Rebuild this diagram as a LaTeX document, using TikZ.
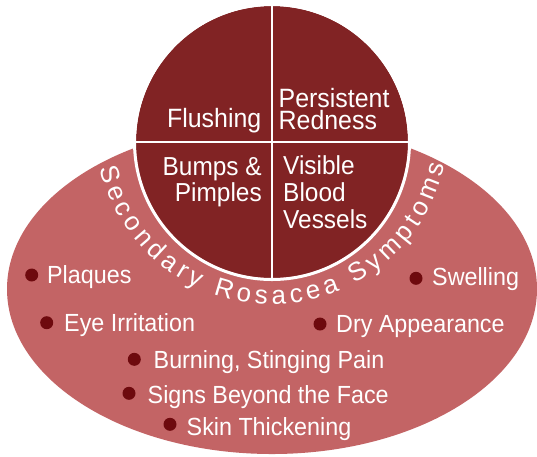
\documentclass[tikz,border=0pt]{standalone}
\usepackage{fontspec}
\setmainfont{Liberation Sans}[FakeStretch=0.94]
\newfontfamily\arcfont{Liberation Sans}
\usetikzlibrary{positioning}
\usetikzlibrary{decorations.text}
\definecolor{rosdark}{RGB}{129, 35, 36}
\definecolor{rosmid}{RGB}{195, 100, 101}
\definecolor{rosdot}{RGB}{110, 10, 14}

\tikzset{
  quadtop/.style={text=white, inner sep=0pt, font=\fontsize{26.5}{22}\selectfont},
  quadlow/.style={text=white, inner sep=0pt, font=\fontsize{26}{26.7}\selectfont},
  symptom/.style={text=white, inner sep=0pt, anchor=base west, font=\fontsize{24.8}{28}\selectfont},
  dot/.style={circle, fill=rosdot, minimum size=13pt, inner sep=0pt}
}

\begin{document}
\begin{tikzpicture}[x=1pt, y=-1pt]
            \useasboundingbox (0,0) rectangle (537,456);
            
            % Outer ellipse
            \fill[rosmid] (272,289) ellipse [x radius=265, y radius=165];
            
            % Inner circle
            \coordinate (hub) at (272,142);
            \fill[rosdark] (hub) circle (136);
            \draw[white, line width=3pt] (hub) circle (137.5);
            
            % Dividers
            \draw[white, line width=2.5pt] (272,5) -- (272,279);
            \draw[white, line width=2.5pt] (135,142) -- (409,142);
            
            % Labels inside circle (base = last line)
            \node[quadtop, anchor=base east] (flushing) at (261.5,127.3) {Flushing};
            \node[quadtop, align=left, anchor=base west] (redness) at (278.5,129.3) {Persistent\\Redness};
            \node[quadlow, align=right, anchor=base east] (bumps) at (262,201.7) {Bumps \&\\Pimples};
            \node[quadlow, align=left, anchor=base west] (vessels) at (283,228.3) {Visible\\Blood\\Vessels};
            
            % Curved title
            \coordinate (arcc) at (272,127);
            \path[decorate, decoration={text along path, text color=white,
                text={|\arcfont\fontsize{26}{26}\selectfont|Secondary Rosacea Symptoms},
                text align={fit to path}}]
              ([shift={(166.5:177)}]arcc) arc [start angle=166.5, end angle=12.3, radius=177];
            
            % Bullets
            \node[dot] (dotplaques) at (31.7,275) {};
            \node[dot] (doteye) at (46.7,322.7) {};
            \node[dot] (dotburning) at (134.3,359.3) {};
            \node[dot] (dotsigns) at (129,393.3) {};
            \node[dot] (dotskin) at (170,424.3) {};
            \node[dot] (dotswelling) at (416,278.3) {};
            \node[dot] (dotdry) at (320,324) {};
            
            % Secondary symptoms
            \node[symptom] (plaques) at (47,283.3) {Plaques};
            \node[symptom] (eye) at (64,331.7) {Eye Irritation};
            \node[symptom] (burning) at (153.5,368.3) {Burning, Stinging Pain};
            \node[symptom] (signs) at (147.5,403) {Signs Beyond the Face};
            \node[symptom] (skin) at (186.5,435) {Skin Thickening};
            \node[symptom] (swelling) at (432,285.7) {Swelling};
            \node[symptom] (dry) at (336,332.7) {Dry Appearance};
            
\end{tikzpicture}
\end{document}
